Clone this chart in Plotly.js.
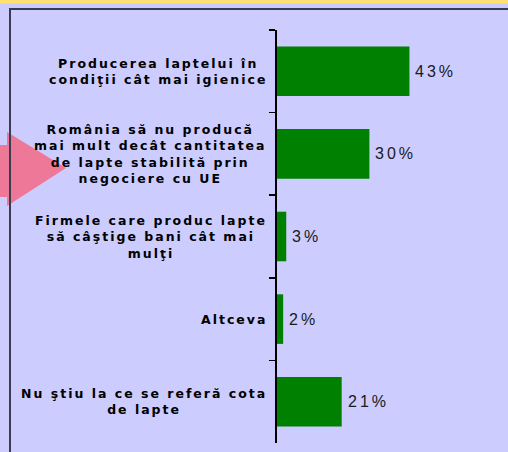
<!DOCTYPE html>
<html>
<head>
<meta charset="utf-8">
<script src="https://cdn.plot.ly/plotly-3.0.1.min.js"></script>
<style>
html,body{margin:0;padding:0;background:#CCCCFF;overflow:hidden;}
#chart{width:508px;height:452px;}
.annotation-text{letter-spacing:2px;}
.annotation-text[style*="Liberation"]{letter-spacing:3px;}
</style>
</head>
<body>
<div id="chart"></div>
<script>
const categories = [
  "Producerea laptelui în<br>condiţii cât mai igienice",
  "România să nu producă<br>mai mult decât cantitatea<br>de lapte stabilită prin<br>negociere cu UE",
  "Firmele care produc lapte<br>să câştige bani cât mai<br>mulţi",
  "Altceva",
  "Nu ştiu la ce se referă cota<br>de lapte"
];
const values = [43, 30, 3, 2, 21];
const valueLabels = values.map(v => v + "%");

const W = 508, H = 452;
const M = {l: 277, r: 0, t: 30, b: 9};
const PW = W - M.l - M.r, PH = H - M.t - M.b;
const px = p => (p - M.l) / PW;
const py = p => (H - M.b - p) / PH;

const trace = {
  type: "bar",
  orientation: "h",
  y: categories,
  x: values,
  width: 0.6,
  marker: {color: "#008000", line: {width: 0}},
  cliponaxis: false,
  hoverinfo: "skip"
};

const labelAnnotations = categories.map(c => ({
  xref: "paper", yref: "y",
  x: 0, y: c,
  xanchor: "right", yanchor: "middle",
  xshift: -8,
  align: "center",
  showarrow: false,
  text: c,
  font: {family: "DejaVu Sans, sans-serif", size: 12.5, color: "#000000", weight: "bold"}
}));

const valueAnnotations = categories.map((c, i) => ({
  xref: "x", yref: "y",
  x: values[i], y: c,
  xanchor: "left", yanchor: "middle",
  xshift: 4,
  showarrow: false,
  text: valueLabels[i],
  font: {family: "Liberation Sans, Arial, sans-serif", size: 16, color: "#1a1a1a"}
}));

const arrowPts = [[0,145],[7,145],[7,132],[66,168],[7,206],[7,197],[0,197]];
const arrowPath = "M" + arrowPts.map(p => px(p[0]) + "," + py(p[1])).join(" L") + " Z";

const shapes = [
  {type: "rect", xref: "paper", yref: "paper", x0: px(0), x1: px(W), y0: py(0), y1: py(3.5),
   fillcolor: "#FFE070", line: {width: 0}, layer: "above"},
  {type: "path", xref: "paper", yref: "paper", path: arrowPath,
   fillcolor: "#EE7898", line: {width: 0}, layer: "above"},
  {type: "line", xref: "paper", yref: "paper", x0: px(9), x1: px(W), y0: py(9), y1: py(9),
   line: {color: "#3b3b4f", width: 2}, layer: "above"},
  {type: "line", xref: "paper", yref: "paper", x0: px(10), x1: px(10), y0: py(8), y1: py(H),
   line: {color: "#3b3b4f", width: 2}, layer: "above"}
];

const layout = {
  width: W, height: H,
  margin: M,
  paper_bgcolor: "#CCCCFF",
  plot_bgcolor: "#CCCCFF",
  showlegend: false,
  bargap: 0.4,
  xaxis: {range: [0, 75], visible: false, fixedrange: true},
  yaxis: {
    type: "category",
    autorange: "reversed",
    showline: true, linecolor: "#000000", linewidth: 2,
    ticks: "outside", ticklen: 6, tickwidth: 1.5, tickcolor: "#000000",
    tickson: "boundaries",
    showticklabels: false,
    showgrid: false, zeroline: false, fixedrange: true
  },
  annotations: labelAnnotations.concat(valueAnnotations),
  shapes: shapes
};

Plotly.newPlot("chart", [trace], layout, {displayModeBar: false, staticPlot: true});
</script>
</body>
</html>
